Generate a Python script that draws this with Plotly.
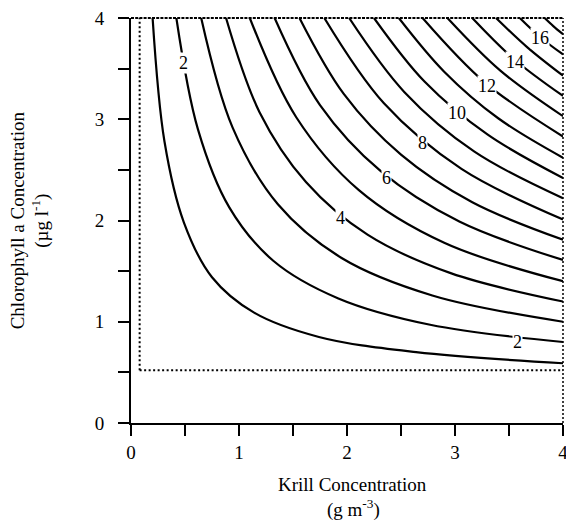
import plotly.graph_objects as go

# ---- data ----
levels = [1, 2, 3, 4, 5, 6, 7, 8, 9, 10, 11, 12, 13, 14, 15, 16, 17]

contour_x = [
    [0.20, 0.31, 0.49, 0.75, 1.14, 1.74, 2.64, 4.00],
    [0.42, 0.62, 0.91, 1.32, 1.92, 2.77, 4.00],
    [0.65, 0.94, 1.36, 1.95, 2.79, 4.00],
    [0.88, 1.19, 1.62, 2.19, 2.96, 4.00],
    [1.10, 1.53, 2.11, 2.90, 4.00],
    [1.33, 1.75, 2.31, 3.04, 4.00],
    [1.56, 1.97, 2.50, 3.16, 4.00],
    [1.79, 2.34, 3.06, 4.00],
    [2.02, 2.53, 3.18, 4.00],
    [2.25, 2.72, 3.30, 4.00],
    [2.48, 2.90, 3.40, 4.00],
    [2.70, 3.28, 4.00],
    [2.93, 3.42, 4.00],
    [3.16, 3.55, 4.00],
    [3.38, 3.67, 4.00],
    [3.60, 3.79, 4.00],
    [3.83, 3.91, 4.00],
]
contour_y = [
    [4.00, 2.78, 1.98, 1.44, 1.09, 0.85, 0.70, 0.59],
    [4.00, 2.90, 2.13, 1.60, 1.23, 0.97, 0.80],
    [4.00, 2.92, 2.16, 1.63, 1.26, 1.00],
    [4.00, 3.07, 2.38, 1.86, 1.48, 1.20],
    [4.00, 3.02, 2.30, 1.78, 1.40],
    [4.00, 3.14, 2.49, 1.99, 1.61],
    [4.00, 3.25, 2.65, 2.18, 1.81],
    [4.00, 3.16, 2.51, 2.01],
    [4.00, 3.27, 2.68, 2.22],
    [4.00, 3.37, 2.85, 2.42],
    [4.00, 3.47, 3.01, 2.62],
    [4.00, 3.36, 2.83],
    [4.00, 3.48, 3.03],
    [4.00, 3.59, 3.23],
    [4.00, 3.71, 3.43],
    [4.00, 3.81, 3.64],
    [4.00, 3.92, 3.84],
]

label_text = ["2", "2", "4", "6", "8", "10", "12", "14", "16"]
label_x = [0.49, 3.58, 1.94, 2.37, 2.70, 3.02, 3.30, 3.56, 3.79]
label_y = [3.56, 0.80, 2.02, 2.42, 2.77, 3.06, 3.33, 3.57, 3.80]

box_x = [0.08, 4.0]   # dotted limits (krill)
box_y = [0.52, 4.0]   # dotted limits (chlorophyll)

tick_vals = [0, 0.5, 1, 1.5, 2, 2.5, 3, 3.5, 4]
tick_text = ["0", "", "1", "", "2", "", "3", "", "4"]

x_title = ["Krill Concentration", "(g m<sup>-3</sup>)"]
y_title = ["Chlorophyll a Concentration", "(µg l<sup>-1</sup>)"]

SERIF = "Liberation Serif, Times New Roman, serif"

fig = go.Figure()
for lv, xs, ys in zip(levels, contour_x, contour_y):
    fig.add_trace(go.Scatter(
        x=xs, y=ys, mode="lines", name=str(lv),
        line=dict(color="black", width=2.2, shape="spline", smoothing=1.0),
        hoverinfo="skip", showlegend=False, cliponaxis=False))

# dotted limit lines
fig.add_shape(type="line", xref="x", yref="y", x0=box_x[0], x1=box_x[0], y0=box_y[0], y1=box_y[1],
              line=dict(color="black", width=2, dash="2px,2.5px"))
fig.add_shape(type="line", xref="x", yref="y", x0=box_x[0], x1=box_x[1], y0=box_y[0], y1=box_y[0],
              line=dict(color="black", width=2, dash="2px,2.5px"))
# top and right frame
fig.add_shape(type="line", xref="paper", yref="paper", x0=0, x1=1, y0=1, y1=1,
              line=dict(color="black", width=2, dash="3px,1.2px"))
fig.add_shape(type="line", xref="paper", yref="paper", x0=1, x1=1, y0=0, y1=1,
              line=dict(color="black", width=1.5, dash="2px,2px"))

for t, lx, ly in zip(label_text, label_x, label_y):
    fig.add_annotation(x=lx, y=ly, xref="x", yref="y", text=t, showarrow=False,
                       font=dict(family=SERIF, size=18, color="black"),
                       bgcolor="white", borderpad=0)

fig.add_annotation(x=0.512, y=-0.152, xref="paper", yref="paper", text=x_title[0], showarrow=False,
                   font=dict(family=SERIF, size=19, color="black"), xanchor="center", yanchor="middle")
fig.add_annotation(x=0.515, y=-0.212, xref="paper", yref="paper", text=x_title[1], showarrow=False,
                   font=dict(family=SERIF, size=19, color="black"), xanchor="center", yanchor="middle")
fig.add_annotation(x=-0.262, y=0.5, xref="paper", yref="paper", text=y_title[0], showarrow=False,
                   textangle=-90, font=dict(family=SERIF, size=19, color="black"),
                   xanchor="center", yanchor="middle")
fig.add_annotation(x=-0.210, y=0.5, xref="paper", yref="paper", text=y_title[1], showarrow=False,
                   textangle=-90, font=dict(family=SERIF, size=19, color="black"),
                   xanchor="center", yanchor="middle")

axis_common = dict(
    range=[0, 4], tickvals=tick_vals, ticktext=tick_text,
    showgrid=False, zeroline=False, showline=True, linecolor="black", linewidth=2,
    ticks="outside", ticklen=11, tickwidth=1.6, tickcolor="black",
    tickfont=dict(family=SERIF, size=19, color="black"),
    ticklabeloverflow="allow", automargin=False,
)
fig.update_xaxes(**axis_common)
fig.update_yaxes(**axis_common, ticklabelstandoff=10)

fig.update_layout(
    width=566, height=523,
    margin=dict(l=131, r=3, t=18, b=100, autoexpand=False),
    paper_bgcolor="white", plot_bgcolor="white",
    showlegend=False,
)

fig.write_html("out.html", config={"displayModeBar": False})
